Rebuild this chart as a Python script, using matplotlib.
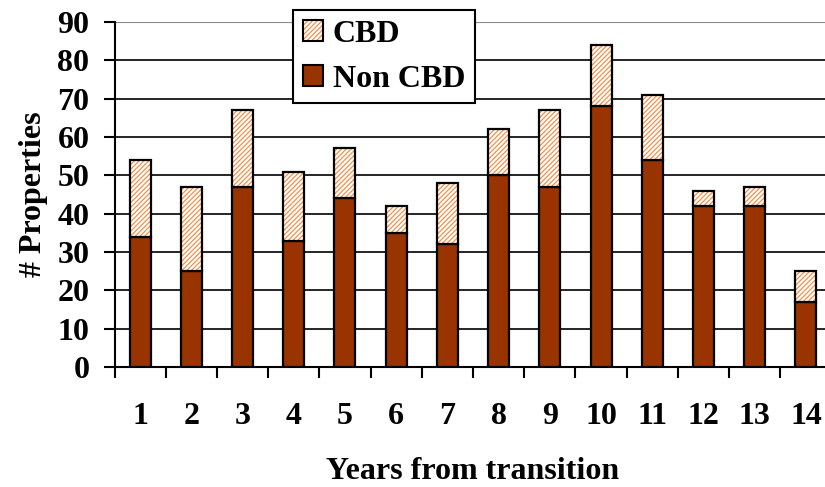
import matplotlib
matplotlib.use("Agg")
import matplotlib.pyplot as plt
from matplotlib.patches import Patch

years = [1, 2, 3, 4, 5, 6, 7, 8, 9, 10, 11, 12, 13, 14]
non_cbd = [34, 25, 47, 33, 44, 35, 32, 50, 47, 68, 54, 42, 42, 17]
cbd = [20, 22, 20, 18, 13, 7, 16, 12, 20, 16, 17, 4, 5, 8]
yticks = [0, 10, 20, 30, 40, 50, 60, 70, 80, 90]

plt.rcParams['font.family'] = 'Liberation Serif'
plt.rcParams['font.weight'] = 'bold'
plt.rcParams['hatch.color'] = '#F5904A'
plt.rcParams['hatch.linewidth'] = 0.9

FS = 23

fig = plt.figure(figsize=(8.25, 4.87), dpi=100)
ax = fig.add_axes([114.5 / 825, 1 - 367 / 487, (831.6 - 114.5) / 825, (367 - 22) / 487])

x = list(range(len(years)))
w = 0.41
ax.bar(x, non_cbd, width=w, color='#993300', edgecolor='black', linewidth=1.6, zorder=3)
ax.bar(x, cbd, bottom=non_cbd, width=w, facecolor='white', hatch='///////',
       linewidth=0, zorder=3)
ax.bar(x, cbd, bottom=non_cbd, width=w, fill=False, edgecolor='black',
       linewidth=1.6, zorder=4)

ax.set_xlim(-0.5, len(years) - 0.5)
ax.set_ylim(0, 90)
ax.set_yticks(yticks)
ax.set_yticklabels([str(v) for v in yticks])
ax.set_xticks([i + 0.5 for i in range(-1, len(years))], minor=False)
ax.set_xticklabels([''] * (len(years) + 1))
ax.set_xticks(x, minor=True)
ax.set_xticklabels([str(y) for y in years], minor=True)
ax.tick_params(axis='x', which='major', direction='out', length=8, width=1.5, color='black')
ax.tick_params(axis='x', which='minor', length=0, pad=25, labelsize=FS)
ax.tick_params(axis='y', direction='out', length=8, width=1.5, pad=10, labelsize=FS)

ax.yaxis.grid(True, color='black', linewidth=1.2, zorder=0)
ax.set_axisbelow(True)
for s in ['top', 'right']:
    ax.spines[s].set_visible(False)
ax.spines['left'].set_linewidth(1.5)
ax.spines['bottom'].set_linewidth(1.5)
ax.axhline(90, color='#888888', linewidth=1.5, zorder=1)
ax.get_ygridlines()[-1].set_visible(False)

ax.set_xlabel('Years from transition', fontsize=FS, fontweight='bold', labelpad=19)
ax.set_ylabel('# Properties', fontsize=FS, fontweight='bold', labelpad=7)

h1 = (Patch(facecolor='white', hatch='///////', linewidth=0),
      Patch(fill=False, edgecolor='black', linewidth=1.5))
h2 = Patch(facecolor='#993300', edgecolor='black', linewidth=1.5)
leg = fig.legend([h1, h2], ['CBD', 'Non CBD'], loc='upper left',
                 bbox_to_anchor=(293 / 825, 1 - 10 / 487), fancybox=False,
                 framealpha=1, edgecolor='black', fontsize=FS,
                 handlelength=0.65, handleheight=0.65, handletextpad=0.3,
                 borderpad=0.3, labelspacing=0.5, borderaxespad=0)
leg.get_frame().set_linewidth(1.5)

fig.savefig('out.png', dpi=100)
